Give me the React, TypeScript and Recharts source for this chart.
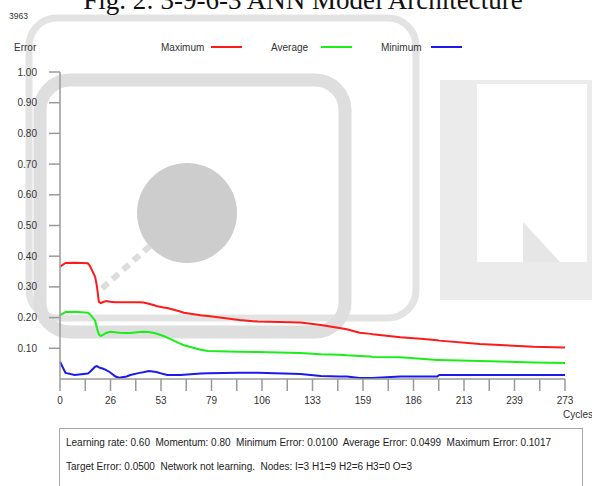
import React from 'react';
import { LineChart, Line, XAxis, YAxis } from 'recharts';

// ---- data ----
const cycles = [0, 3, 8, 15, 16, 19, 20, 21, 22, 23, 25, 27, 30, 32, 36, 38, 43, 45, 48, 51, 52, 56, 58, 65, 67, 76, 80, 97, 107, 130, 141, 151, 155, 162, 168, 169, 184, 195, 204, 205, 227, 256, 273];

const maximumError = [0.366, 0.378, 0.379, 0.377, 0.370, 0.333, 0.300, 0.252, 0.247, 0.250, 0.254, 0.252, 0.250, 0.250, 0.250, 0.250, 0.250, 0.249, 0.245, 0.240, 0.238, 0.233, 0.231, 0.220, 0.216, 0.208, 0.205, 0.192, 0.187, 0.184, 0.176, 0.166, 0.162, 0.151, 0.147, 0.146, 0.136, 0.131, 0.126, 0.125, 0.114, 0.105, 0.103];

const averageError = [0.208, 0.218, 0.219, 0.216, 0.212, 0.190, 0.165, 0.145, 0.140, 0.143, 0.150, 0.154, 0.152, 0.151, 0.150, 0.150, 0.153, 0.154, 0.153, 0.150, 0.148, 0.140, 0.135, 0.115, 0.110, 0.095, 0.091, 0.089, 0.088, 0.085, 0.081, 0.079, 0.077, 0.075, 0.073, 0.072, 0.071, 0.066, 0.062, 0.062, 0.059, 0.054, 0.052];

const minimumError = [0.056, 0.020, 0.013, 0.018, 0.022, 0.040, 0.042, 0.038, 0.036, 0.034, 0.029, 0.022, 0.008, 0.004, 0.008, 0.013, 0.020, 0.022, 0.026, 0.024, 0.023, 0.016, 0.013, 0.013, 0.014, 0.018, 0.019, 0.020, 0.020, 0.016, 0.010, 0.008, 0.008, 0.003, 0.003, 0.003, 0.008, 0.008, 0.008, 0.013, 0.013, 0.013, 0.013];

const xTickLabels = ['0', '26', '53', '79', '106', '133', '159', '186', '213', '239', '273'];
const yTicks = [0.1, 0.2, 0.3, 0.4, 0.5, 0.6, 0.7, 0.8, 0.9, 1.0];

const seriesNames = ['Maximum', 'Average', 'Minimum'];
const seriesKeys = ['max', 'avg', 'min'];
const seriesColors = ['#ff1a1a', '#1aee1a', '#1a1aee'];

const footerLine1 = 'Learning rate: 0.60  Momentum: 0.80  Minimum Error: 0.0100  Average Error: 0.0499  Maximum Error: 0.1017';
const footerLine2 = 'Target Error: 0.0500  Network not learning.  Nodes: I=3 H1=9 H2=6 H3=0 O=3';
const titleText = 'Fig. 2: 3-9-6-3 ANN Model Architecture';

const X_MAX = 273;
const X_STEPS = 20;

const data = cycles.map((c, i) => ({
  cycle: c,
  max: maximumError[i],
  avg: averageError[i],
  min: minimumError[i],
}));

const xTickPositions = Array.from({ length: X_STEPS + 1 }, (_, i) => (i * X_MAX) / X_STEPS);

const FONT = '"Liberation Sans", Arial, sans-serif';

const XTick = (props: any) => {
  const { x, y, payload } = props;
  const idx = Math.round((payload.value * X_STEPS) / X_MAX);
  if (idx % 2 !== 0) return null;
  return (
    <text x={x} y={y} dy={11} textAnchor="middle" fontFamily={FONT} fontSize={10} fill="#333">
      {xTickLabels[idx / 2]}
    </text>
  );
};

const Watermark = () => (
  <svg width={592} height={486} style={{ position: 'absolute', left: 0, top: 0 }}>
    <g fill="none" strokeLinejoin="round">
      <rect x={29} y={18} width={387} height={300} rx={28} stroke="#e3e3e3" strokeWidth={7} />
      <rect x={40} y={80} width={305} height={252} rx={30} stroke="#dedede" strokeWidth={13} />
    </g>
    <rect x={440} y={80} width={152} height={220} fill="#ebebeb" />
    <rect x={477} y={84} width={110} height={178} fill="#ffffff" />
    <polygon points="523,262 523,222 560,262" fill="#e6e6e6" />
    <circle cx={187} cy={213} r={50} fill="#cdcdcd" />
    <line x1={150} y1={246} x2={98} y2={292} stroke="#dddddd" strokeWidth={6} strokeDasharray="8 6" />
  </svg>
);

const Labels = () => (
  <svg width={592} height={486} style={{ position: 'absolute', left: 0, top: 0 }}>
    <text x={303} y={9} textAnchor="middle" fontFamily='"Liberation Serif", "Times New Roman", serif' fontSize={27} fill="#111">
      {titleText}
    </text>
    <text x={9} y={19} fontFamily={FONT} fontSize={8.5} fill="#333">3963</text>
    <text x={14} y={50.5} fontFamily={FONT} fontSize={10} fill="#333">Error</text>
    {seriesNames.map((name, i) => (
      <g key={name}>
        <text x={161 + i * 110} y={50.5} fontFamily={FONT} fontSize={10} fill="#333">{name}</text>
        <line x1={211 + i * 110} x2={242 + i * 110} y1={47} y2={47} stroke={seriesColors[i]} strokeWidth={2} />
      </g>
    ))}
    <text x={563} y={417.5} fontFamily={FONT} fontSize={10} fill="#333">Cycles</text>
  </svg>
);

export default function App() {
  return (
    <div style={{ position: 'absolute', left: 0, top: 0, width: 592, height: 486, overflow: 'hidden', background: '#fff' }}>
      <Watermark />
      <div style={{ position: 'absolute', left: 0, top: 0 }}>
        <LineChart width={592} height={486} data={data} margin={{ top: 72, right: 27, bottom: 77, left: 0 }}>
          <XAxis
            dataKey="cycle"
            type="number"
            domain={[0, X_MAX]}
            ticks={xTickPositions}
            interval={0}
            height={30}
            tickSize={12}
            tickLine={{ stroke: '#9a9a9a', strokeWidth: 1.5 }}
            axisLine={{ stroke: '#9a9a9a', strokeWidth: 1.5 }}
            tick={<XTick />}
          />
          <YAxis
            type="number"
            domain={[0, 1]}
            ticks={yTicks}
            interval={0}
            width={60}
            tickSize={11}
            tickMargin={12}
            tickLine={{ stroke: '#9a9a9a', strokeWidth: 1.5 }}
            axisLine={{ stroke: '#9a9a9a', strokeWidth: 1.5 }}
            tick={{ fontFamily: FONT, fontSize: 10, fill: '#333' }}
            tickFormatter={(v: number) => v.toFixed(2)}
          />
          {seriesKeys.map((k, i) => (
            <Line
              key={k}
              type="linear"
              dataKey={k}
              name={seriesNames[i]}
              stroke={seriesColors[i]}
              strokeWidth={2}
              dot={false}
              isAnimationActive={false}
            />
          ))}
        </LineChart>
      </div>
      <Labels />
      <div
        style={{
          position: 'absolute',
          left: 59,
          top: 428,
          width: 522,
          height: 80,
          border: '1px solid #a8a8a8',
          fontFamily: FONT,
          fontSize: 10,
          color: '#222',
          whiteSpace: 'pre',
        }}
      >
        <div style={{ position: 'absolute', left: 6, top: 8, lineHeight: '12px' }}>{footerLine1}</div>
        <div style={{ position: 'absolute', left: 6, top: 32, lineHeight: '12px' }}>{footerLine2}</div>
      </div>
    </div>
  );
}
